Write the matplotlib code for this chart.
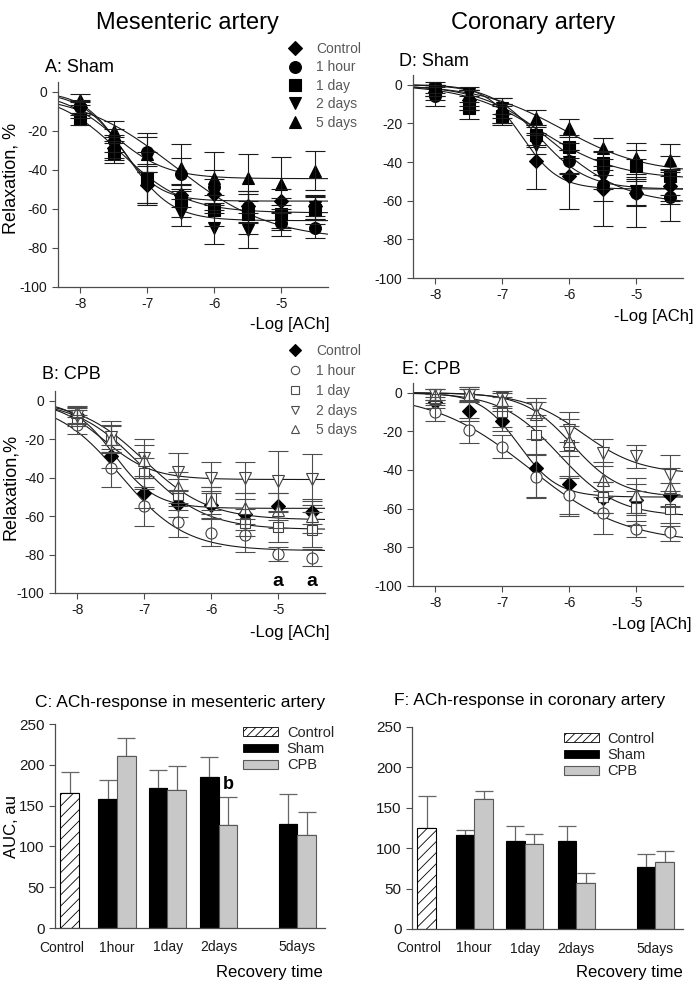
import numpy as np
import matplotlib
matplotlib.use("Agg")
import matplotlib.pyplot as plt
from matplotlib.lines import Line2D
from matplotlib.patches import Patch

plt.rcParams['font.family'] = ['Liberation Sans', 'DejaVu Sans']
plt.rcParams['axes.unicode_minus'] = False
plt.rcParams['hatch.linewidth'] = 0.6

# -log[ACh] concentrations
log_ach = [-8, -7.5, -7, -6.5, -6, -5.5, -5, -4.5]
groups = ["Control", "1 hour", "1 day", "2 days", "5 days"]

# A: mesenteric artery, sham
mes_sham_mean = [
    [-7.8, -29, -48, -53, -52.5, -58.6, -56, -58.6],
    [-8, -25, -31, -42, -49, -59, -67, -70],
    [-13.8, -31.5, -44, -56, -60.7, -62.6, -62.6, -60.7],
    [-9.5, -28, -47, -62, -70, -71, -64, -59],
    [-4, -20, -32, -39, -44, -44, -47.5, -40.5],
]
mes_sham_err = [
    [3, 6, 10, 6, 8, 8, 6, 5],
    [4, 6, 10, 8, 9, 8, 7, 5],
    [3, 5, 13, 8, 8, 10, 8, 7],
    [4, 6, 10, 7, 8, 9, 6, 6],
    [3, 5, 9, 12, 13, 12, 14, 10],
]
# fitted curves: (bottom, logEC50, hill slope)
mes_sham_fit = [(-56, -7.4, 1.5), (-76, -6.6, 0.6), (-62, -7.4, 0.9),
                (-66, -7.3, 1.3), (-44.5, -7.5, 1.1)]

# D: coronary artery, sham
cor_sham_mean = [
    [-4, -8, -15, -39.7, -47.4, -54, -56, -52.6],
    [-6, -8, -15, -27, -39.6, -52, -56, -58],
    [-3, -12, -16, -26, -32, -40.5, -42, -47],
    [-1.5, -5, -12, -31, -40, -48, -55, -52],
    [-3, -7, -11, -17, -22.4, -33, -38, -39],
]
cor_sham_err = [
    [4, 5, 5, 14.5, 17, 19, 7, 9],
    [5, 5, 5, 5, 6, 8, 17.6, 12.7],
    [3, 6, 5, 5, 6, 6, 8, 10],
    [3, 4, 5, 5, 6, 6, 7, 8],
    [3, 4, 4, 4, 4.6, 5.4, 8, 8.5],
]
cor_sham_fit = [(-54, -6.7, 1.6), (-62, -6.2, 0.8), (-49, -6.4, 0.75),
                (-54, -6.45, 1.2), (-46, -6.1, 0.7)]

# B: mesenteric artery, CPB
mes_cpb_mean = [
    [-7.5, -29, -48, -53.6, -54, -59, -55, -58],
    [-12.6, -35, -55, -63, -68.6, -70, -79.7, -81.7],
    [-9, -19.5, -37.8, -49, -50.7, -63.4, -65.6, -67],
    [-8, -18.7, -30, -37, -40, -40, -42, -41],
    [-5.7, -20, -31, -45, -52, -56, -57, -60],
]
mes_cpb_err = [
    [4, 6, 8, 7, 7, 8, 7, 6],
    [5, 10, 10, 8, 7, 8.6, 3.5, 4.5],
    [4, 7, 8, 8, 6, 7, 8, 9],
    [4, 8, 10, 10, 8, 8, 16, 13.5],
    [3, 7, 8, 8, 7, 8, 9, 9],
]
mes_cpb_fit = [(-56, -7.45, 1.4), (-78, -7.35, 0.9), (-67, -7.05, 0.9),
               (-41, -7.6, 1.2), (-62, -7.0, 0.9)]

# E: coronary artery, CPB
cor_cpb_mean = [
    [-5, -9.5, -14.7, -39, -47, -54.4, -55.5, -52.7],
    [-10, -19.5, -28, -43.5, -53, -62, -70.6, -72],
    [-3.5, -1, -10, -21.8, -27, -54, -59.7, -60],
    [-1, -1, -3, -8, -19.5, -31, -33, -42.5],
    [-1, -1, -4, -11, -25, -45, -53, -49],
]
cor_cpb_err = [
    [3, 5, 5, 15, 17, 8, 8, 6],
    [4.7, 6.5, 6, 11, 10, 11, 4, 4.5],
    [3, 4, 8, 10, 17, 8, 9, 9],
    [3, 4, 4, 5, 6, 7, 6, 10],
    [3, 3, 4, 6, 8, 9, 9, 10],
]
cor_cpb_fit = [(-54, -6.75, 1.5), (-78, -6.6, 0.6), (-64, -6.15, 1.0),
               (-42, -5.8, 1.0), (-54, -5.95, 1.2)]

# AUC bars
bar_labels = ["Control", "1hour", "1day", "2days", "5days"]
mes_ctrl_auc, mes_ctrl_err = 166, 25
mes_sham_auc = [158, 171, 185, 127]
mes_sham_auc_err = [23, 23, 25, 37]
mes_cpb_auc = [211, 169, 126, 114]
mes_cpb_auc_err = [22, 30, 35, 28]
cor_ctrl_auc, cor_ctrl_err = 125, 39
cor_sham_auc = [116, 109, 109, 77]
cor_sham_auc_err = [6, 19, 19, 16]
cor_cpb_auc = [161, 105, 57, 83]
cor_cpb_auc_err = [10, 13, 12, 13]

W, H = 698, 985
fig = plt.figure(figsize=(W / 100, H / 100), dpi=100)


def rect(left, top, right, bottom):
    return [left / W, 1 - bottom / H, (right - left) / W, (bottom - top) / H]


def fx(px):
    return px / W


def fy(py):
    return 1 - py / H


def hill(x, bottom, logec50, slope):
    return bottom / (1 + 10 ** ((logec50 - x) * slope))


def style_axes(ax):
    for s in ['top', 'right']:
        ax.spines[s].set_visible(False)
    for s in ['left', 'bottom']:
        ax.spines[s].set_color('0.3')
        ax.spines[s].set_linewidth(0.9)
    ax.tick_params(direction='out', length=4, width=0.8, color='0.3',
                   labelsize=10, labelcolor='0.1')


markers = ['D', 'o', 's', 'v', '^']
msizes = [7.5, 8.5, 8, 8.5, 8.5]


def draw_curves(ax, means, errs, fits, filled):
    xs = np.linspace(-8.33, -4.3, 300)
    for i in range(len(groups)):
        ax.plot(xs, hill(xs, *fits[i]), color='0.1', lw=0.8, zorder=2)
    for i in range(len(groups)):
        solid = filled or i == 0
        ax.plot(log_ach, means[i], ls='none', marker=markers[i],
                ms=msizes[i] if filled else msizes[i] - 0.5,
                mfc='black' if solid else 'white',
                mec='black' if solid else '0.25', mew=0.8, zorder=3)
        ax.errorbar(log_ach, means[i], yerr=errs[i], fmt='none',
                    ecolor='0.1' if filled else '0.3', elinewidth=0.8,
                    capsize=7, capthick=0.8, zorder=4)
    ax.set_xlim(-8.33, -4.3)
    ax.set_ylim(-100, 5)
    ax.set_xticks([-8, -7, -6, -5])
    ax.set_yticks([0, -20, -40, -60, -80, -100])
    style_axes(ax)


def curve_legend(ax, filled, top, spacing):
    handles = []
    for i, g in enumerate(groups):
        solid = filled or i == 0
        handles.append(Line2D([], [], ls='none', marker=markers[i],
                              ms=msizes[i] if filled else 6,
                              mfc='black' if solid else 'white',
                              mec='black' if solid else '0.3', mew=0.8, label=g))
    ax.legend(handles=handles, loc='upper left', frameon=False,
              bbox_to_anchor=(fx(287), fy(top)), bbox_transform=fig.transFigure,
              fontsize=10, labelcolor='0.35', handlelength=1.1,
              handletextpad=1.0, borderpad=0, borderaxespad=0,
              labelspacing=spacing)


ax_a = fig.add_axes(rect(58, 82, 328, 287))
draw_curves(ax_a, mes_sham_mean, mes_sham_err, mes_sham_fit, True)
curve_legend(ax_a, True, 42, 0.32)

ax_d = fig.add_axes(rect(413, 75, 683, 278))
draw_curves(ax_d, cor_sham_mean, cor_sham_err, cor_sham_fit, True)

ax_b = fig.add_axes(rect(55, 391, 325, 593))
draw_curves(ax_b, mes_cpb_mean, mes_cpb_err, mes_cpb_fit, False)
curve_legend(ax_b, False, 344, 0.42)
for xv in [-5, -4.5]:
    ax_b.text(xv, -94, "a", fontsize=14, fontweight='bold',
              ha='center', va='center')

ax_e = fig.add_axes(rect(413, 383, 683, 586))
draw_curves(ax_e, cor_cpb_mean, cor_cpb_err, cor_cpb_fit, False)

# y labels, panel labels and x-axis labels
fig.text(fx(11), fy(178), "Relaxation, %", fontsize=13, rotation=90,
         ha='center', va='center')
fig.text(fx(11), fy(487), "Relaxation,%", fontsize=13, rotation=90,
         ha='center', va='center')
fig.text(fx(45), fy(67), "A: Sham", fontsize=13, va='center')
fig.text(fx(399), fy(62), "D: Sham", fontsize=13, va='center')
fig.text(fx(42), fy(375), "B: CPB", fontsize=13, va='center')
fig.text(fx(402), fy(369), "E: CPB", fontsize=13, va='center')
for px, py in [(330, 325), (693, 317), (330, 633), (692, 625)]:
    fig.text(fx(px), fy(py), "-Log [ACh]", fontsize=12, ha='right', va='center')

fig.text(fx(187), fy(29), "Mesenteric artery", fontsize=17, ha='center', va='baseline')
fig.text(fx(533), fy(29), "Coronary artery", fontsize=17, ha='center', va='baseline')

# bar charts
ctrl_pos = 0.78
sham_pos = [2.83, 5.53, 8.29, 12.52]
cpb_pos = [p + 1 for p in sham_pos]
label_pos = [0.38, 3.3, 6.05, 8.78, 13.0]


def draw_bars(ax, ctrl, ctrl_err, sham, sham_err, cpb, cpb_err):
    ax.bar([ctrl_pos], [ctrl], width=1, color='white', edgecolor='black',
           hatch='///', lw=0.8, zorder=2)
    ax.bar(sham_pos, sham, width=1, color='black', edgecolor='black', lw=0.8, zorder=2)
    ax.bar(cpb_pos, cpb, width=1, color='#c8c8c8', edgecolor='0.35', lw=0.8, zorder=2)
    xs = [ctrl_pos] + sham_pos + cpb_pos
    ys = [ctrl] + sham + cpb
    es = [ctrl_err] + sham_err + cpb_err
    ax.errorbar(xs, ys, yerr=[[0] * len(es), es], fmt='none', ecolor='0.4',
                elinewidth=0.9, capsize=6.5, capthick=0.9, zorder=1)
    ax.set_xlim(0, 14.5)
    ax.set_ylim(0, 250)
    ax.set_yticks([0, 50, 100, 150, 200, 250])
    ax.set_xticks(label_pos)
    ax.set_xticklabels(bar_labels, fontsize=12)
    style_axes(ax)
    ax.tick_params(axis='y', labelsize=11)
    ax.tick_params(axis='x', length=0, pad=9, labelcolor='0.1')


def bar_legend(ax, left, top):
    handles = [Patch(facecolor='white', edgecolor='black', hatch='////', lw=0.6, label='Control'),
               Patch(facecolor='black', edgecolor='black', lw=0.6, label='Sham'),
               Patch(facecolor='#c8c8c8', edgecolor='0.35', lw=0.8, label='CPB')]
    ax.legend(handles=handles, loc='upper left', frameon=False,
              bbox_to_anchor=(fx(left), fy(top)), bbox_transform=fig.transFigure,
              fontsize=10.5, labelcolor='0.15', handlelength=2.4, handleheight=0.55,
              handletextpad=0.6, borderpad=0, borderaxespad=0, labelspacing=0.15)


ax_c = fig.add_axes(rect(55, 724, 325, 928))
draw_bars(ax_c, mes_ctrl_auc, mes_ctrl_err, mes_sham_auc, mes_sham_auc_err,
          mes_cpb_auc, mes_cpb_auc_err)
bar_legend(ax_c, 243, 726)
ax_c.text(cpb_pos[2], 176, "b", fontsize=13, fontweight='bold', ha='center', va='center')
fig.text(fx(12), fy(826), "AUC, au", fontsize=12, rotation=90, ha='center', va='center')
fig.text(fx(180), fy(703), "C: ACh-response in mesenteric artery", fontsize=12.5,
         ha='center', va='center')
fig.text(fx(323), fy(973), "Recovery time", fontsize=12, ha='right', va='center')

ax_f = fig.add_axes(rect(412, 727, 683, 929))
draw_bars(ax_f, cor_ctrl_auc, cor_ctrl_err, cor_sham_auc, cor_sham_auc_err,
          cor_cpb_auc, cor_cpb_auc_err)
bar_legend(ax_f, 564, 732)
fig.text(fx(530), fy(700), "F: ACh-response in coronary artery", fontsize=12.5,
         ha='center', va='center')
fig.text(fx(683), fy(972), "Recovery time", fontsize=12, ha='right', va='center')

fig.savefig("out.png", dpi=100)
